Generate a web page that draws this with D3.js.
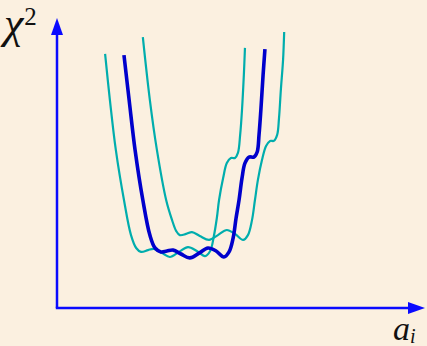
<!DOCTYPE html>
<html>
<head>
<meta charset="utf-8">
<script src="https://cdn.jsdelivr.net/npm/d3@7"></script>
<style>
  html, body { margin: 0; padding: 0; background: #fbf0e0; }
  svg { display: block; }
</style>
</head>
<body>
<div id="chart"></div>
<script>
// chi^2 vs a_i, three curves (a_i, chi^2 in arbitrary units)
let centerX = [1.81, 1.95, 2.11, 2.32, 2.51, 2.65, 2.81, 2.97, 3.14, 3.35, 3.59, 3.84, 4.08, 4.30, 4.51, 4.65, 4.76, 4.84, 4.92, 5.00, 5.08, 5.19, 5.32, 5.41, 5.46, 5.51, 5.57, 5.62];
let centerY = [8.43, 6.93, 5.27, 3.60, 2.43, 2.00, 1.87, 1.90, 1.93, 1.80, 1.67, 1.83, 2.00, 1.90, 1.70, 1.87, 2.33, 3.00, 3.60, 4.33, 4.83, 5.03, 5.03, 5.20, 5.77, 6.60, 7.77, 8.63];

let leftX = [1.30, 1.43, 1.59, 1.81, 2.00, 2.14, 2.27, 2.46, 2.62, 2.84, 3.05, 3.30, 3.54, 3.78, 4.00, 4.14, 4.24, 4.32, 4.38, 4.49, 4.59, 4.70, 4.81, 4.89, 4.95, 5.00, 5.05, 5.08];
let leftY = [8.47, 6.93, 5.27, 3.60, 2.43, 2.00, 1.87, 1.93, 1.97, 1.83, 1.70, 1.87, 2.03, 1.90, 1.73, 1.90, 2.40, 3.00, 3.60, 4.33, 4.83, 5.00, 5.00, 5.17, 5.77, 6.60, 7.77, 8.67];

let rightX = [2.32, 2.51, 2.70, 2.95, 3.11, 3.22, 3.32, 3.49, 3.65, 3.86, 4.11, 4.35, 4.59, 4.81, 5.03, 5.16, 5.27, 5.35, 5.43, 5.54, 5.65, 5.76, 5.86, 5.95, 6.00, 6.05, 6.11, 6.14];
let rightY = [9.03, 6.93, 5.27, 3.60, 2.93, 2.57, 2.43, 2.47, 2.53, 2.40, 2.27, 2.43, 2.60, 2.47, 2.27, 2.43, 2.93, 3.60, 4.27, 4.93, 5.40, 5.57, 5.57, 5.77, 6.33, 7.27, 8.27, 9.20];

let width = 427, height = 346;
let axisColor = '#0a0aff',
    mainColor = '#0000cc',
    sideColor = '#00adad';

let svg = d3.select('#chart').append('svg')
    .attr('width', width)
    .attr('height', height);

svg.append('rect')
    .attr('width', '100%')
    .attr('height', '100%')
    .attr('fill', '#fbf0e0');

let x = d3.scaleLinear().domain([0, 10]).range([57, 427]);
let y = d3.scaleLinear().domain([0, 10]).range([308, 8]);

// axes with arrow heads
svg.append('line')
    .attr('x1', x(0)).attr('y1', y(0))
    .attr('x2', x(0)).attr('y2', 32)
    .attr('stroke', axisColor).attr('stroke-width', 2.5);
svg.append('line')
    .attr('x1', x(0) - 1.2).attr('y1', y(0))
    .attr('x2', 410).attr('y2', y(0))
    .attr('stroke', axisColor).attr('stroke-width', 2.5);
svg.append('path')
    .attr('d', 'M' + x(0) + ',18 L' + (x(0) - 6) + ',35 L' + (x(0) + 6) + ',35 Z')
    .attr('fill', axisColor);
svg.append('path')
    .attr('d', 'M425,' + y(0) + ' L408,' + (y(0) - 6) + ' L408,' + (y(0) + 6) + ' Z')
    .attr('fill', axisColor);

let line = d3.line()
    .x(d => x(d[0]))
    .y(d => y(d[1]))
    .curve(d3.curveCatmullRom.alpha(0.5));

function drawCurve(xs, ys, color, w) {
    svg.append('path')
        .datum(xs.map((v, i) => [v, ys[i]]))
        .attr('d', line)
        .attr('fill', 'none')
        .attr('stroke', color)
        .attr('stroke-width', w);
}

drawCurve(leftX, leftY, sideColor, 2.2);
drawCurve(rightX, rightY, sideColor, 2.2);
drawCurve(centerX, centerY, mainColor, 3.6);

// labels
let chi = svg.append('text')
    .attr('x', 4).attr('y', 38)
    .attr('font-family', 'Liberation Serif, DejaVu Serif, serif')
    .attr('fill', '#111');
chi.append('tspan').attr('font-style', 'italic').attr('font-size', 44).text('χ');
chi.append('tspan')
    .attr('font-size', 25).attr('dy', -13).attr('dx', 1).text('2');

let ai = svg.append('text')
    .attr('x', 393).attr('y', 340)
    .attr('font-family', 'Liberation Serif, DejaVu Serif, serif')
    .attr('font-style', 'italic')
    .attr('font-size', 34)
    .attr('fill', '#111');
ai.append('tspan').text('a');
ai.append('tspan').attr('font-size', 20).attr('dy', 3).text('i');
</script>
</body>
</html>
